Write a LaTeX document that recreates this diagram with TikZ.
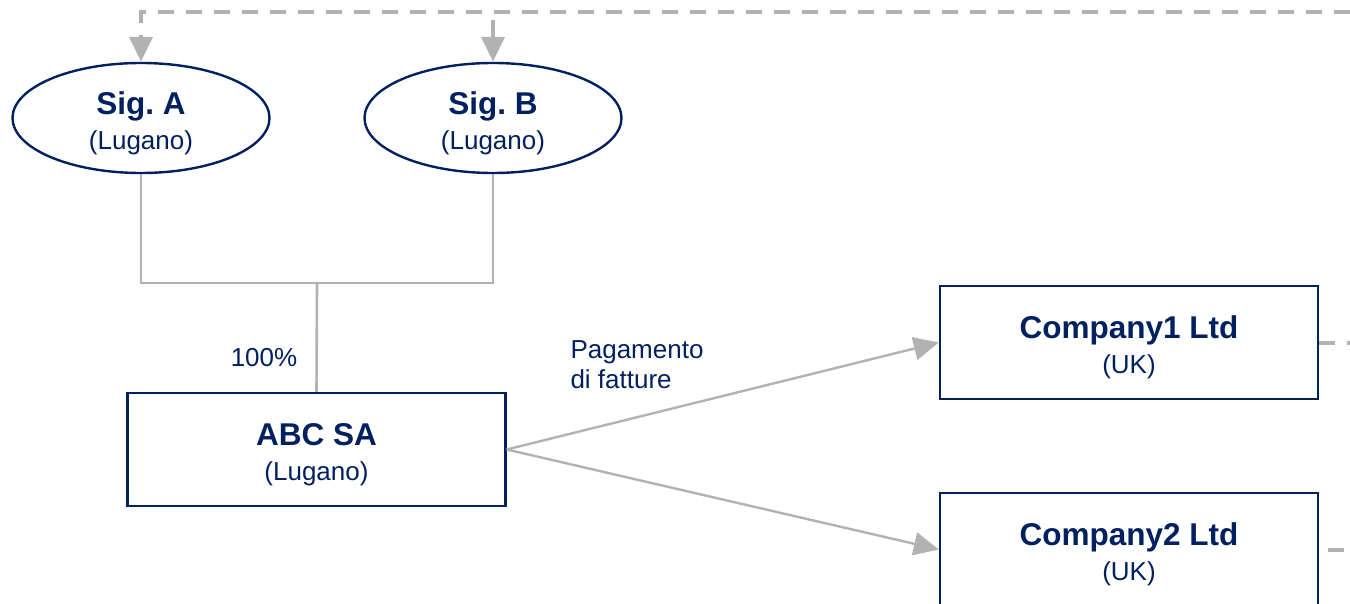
\documentclass[tikz,border=0pt]{standalone}
\usepackage{fontspec}
\setmainfont{Liberation Sans}
\frenchspacing
\usetikzlibrary{shapes.geometric,arrows.meta}
\definecolor{navy}{RGB}{0,32,96}
\definecolor{linegrey}{RGB}{178,178,178}
% bold first line of a node, with a strut that lowers the text block a little
\newcommand{\titletext}[1]{{\fontsize{31.5}{35}\selectfont\bfseries\rule{0pt}{33pt}#1}}
\begin{document}
\begin{tikzpicture}[x=1pt,y=-1pt,
  every node/.style={text=navy},
  person/.style={ellipse,draw=navy,line width=2.4pt,minimum width=257,minimum height=110,inner sep=0pt,align=center,font=\fontsize{26}{35}\selectfont},
  company/.style={rectangle,draw=navy,line width=2.4pt,minimum width=378,minimum height=113,inner sep=0pt,align=center,font=\fontsize{26}{35}\selectfont},
  link/.style={draw=linegrey,line width=2.6pt},
  flow/.style={draw=linegrey,line width=2.4pt,-{Triangle[length=25pt,width=23pt]}},
  dashlink/.style={draw=linegrey,line width=4pt,dash pattern=on 16pt off 12pt},
  label/.style={font=\fontsize{26}{30}\selectfont}]
\useasboundingbox (0,0) rectangle (1350,604);
\clip (0,0) rectangle (1350,604);

% shareholders
\node[person] (siga) at (141,118) {\titletext{Sig. A}\\(Lugano)};
\node[person] (sigb) at (493,118) {\titletext{Sig. B}\\(Lugano)};

% companies
\node[company] (abc) at (316.5,449.5) {\titletext{ABC SA}\\(Lugano)};
\node[company] (co1) at (1129,342.5) {\titletext{Company1 Ltd}\\(UK)};
\node[company] (co2) at (1129,549.5) {\titletext{Company2 Ltd}\\(UK)};

% ownership
\coordinate (join) at (317,283);
\draw[link] (siga.south) |- (join) -| (sigb.south);
\draw[link] (join) -- (abc.north);
\node[label] (pct) at (264,358) {100\%};

% payments
\draw[flow] (abc.east) -- (co1.west);
\draw[flow] (abc.east) -- (co2.west);
\node[label,align=left,anchor=west] (pay) at (567,365) {Pagamento\\di fatture};

% dashed return lines
\coordinate (topright) at (1350,12);
\coordinate (topb) at (493,12);
\coordinate (right1) at (1350,342.5);
\coordinate (right2) at (1350,549.5);
\draw[dashlink,-{Triangle[length=25pt,width=23pt]}] (topright) -| (siga.north);
\draw[dashlink,-{Triangle[length=25pt,width=23pt]},dash pattern=on 30pt off 0pt] (topb) ++(0,8) -- (sigb.north);
\draw[dashlink] (co1.east) -- (right1);
\draw[dashlink,dash phase=19pt] (co2.east) -- (right2);
\end{tikzpicture}
\end{document}
